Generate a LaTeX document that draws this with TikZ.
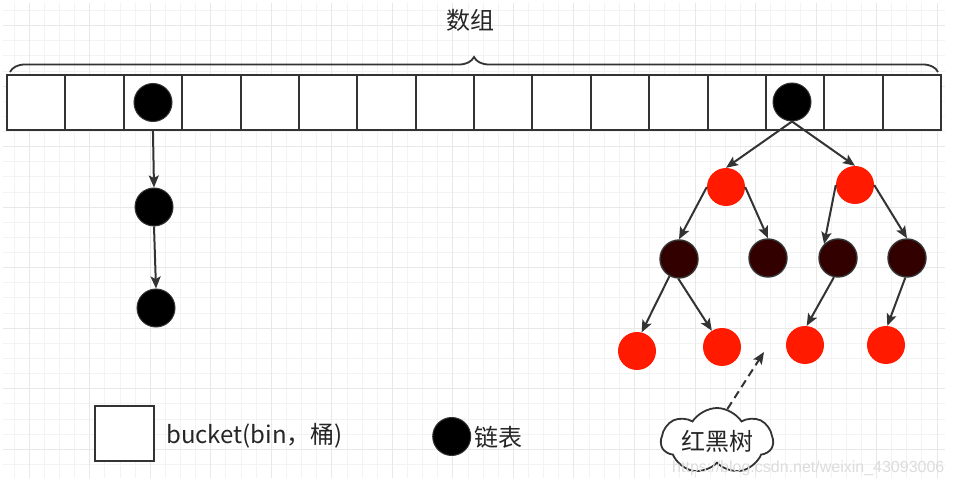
\documentclass[tikz,border=0pt]{standalone}
\usepackage{fontspec}
\newfontfamily\cjk{Noto Sans CJK SC}
\newfontfamily\wm{Liberation Sans}
\usetikzlibrary{arrows.meta,shapes.symbols,decorations.pathreplacing}
\definecolor{rbred}{HTML}{FF1A00}
\definecolor{rbdark}{HTML}{330000}
\definecolor{edgec}{HTML}{333333}
\definecolor{gridminor}{HTML}{F3F3F3}
\definecolor{gridmajor}{HTML}{E8E8E8}
\definecolor{wmc}{HTML}{DCDCDC}
\begin{document}
\begin{tikzpicture}[x=1pt,y=-1pt,
  cell/.style={draw=edgec, line width=2pt, fill=white, minimum width=58.375pt, minimum height=55pt, inner sep=0pt, outer sep=0pt},
  blk/.style={circle, draw=edgec, line width=1pt, fill=black, minimum size=38pt, inner sep=0pt},
  rnode/.style={circle, fill=rbred, minimum size=38pt, inner sep=0pt},
  dnode/.style={circle, draw=edgec, line width=1.4pt, fill=rbdark, minimum size=38pt, inner sep=0pt},
  arr/.style={draw=edgec, line width=2pt, -{Stealth[length=12pt,width=10pt,inset=2.5pt]}},
  cjklabel/.style={font=\cjk\fontsize{24}{26}\selectfont, inner sep=0pt, text=black!85}
]
\useasboundingbox (0,0) rectangle (953,486);
\fill[white] (0,0) rectangle (953,486);
% grid
\foreach \k in {-1,...,60} \draw[gridminor, line width=1pt] ({29.3+15.13*\k},3) -- ({29.3+15.13*\k},478);
\foreach \k in {-1,...,29} \draw[gridminor, line width=1pt] (3,{449.3-15.13*\k}) -- (945,{449.3-15.13*\k});
\foreach \k in {0,...,15} \draw[gridmajor, line width=1pt] ({29.3+60.52*\k},3) -- ({29.3+60.52*\k},478);
\foreach \k in {0,...,7} \draw[gridmajor, line width=1pt] (3,{449.3-60.52*\k}) -- (945,{449.3-60.52*\k});

% title and brace
\node[cjklabel] (title) at (470,20) {数组};
\coordinate (bl) at (10,72);
\coordinate (br) at (938,72);
\draw[edgec, line width=1.8pt, decorate, decoration={brace, amplitude=15pt}] (bl) -- (br);

% array
\foreach \i in {1,...,16} \node[cell] (c\i) at ({7+58.375*(\i-0.5)},102.5) {};

% linked list
\node[blk] (a1) at (153,102.5) {};
\node[blk] (l2) at (154,207) {};
\node[blk] (l3) at (156,308) {};
\draw[arr] (c3.south) -- (l2.north);
\draw[arr] (l2.south) -- (l3.north);

% tree
\node[blk] (root) at (792,102) {};
\node[rnode] (t1a) at (726,187) {};
\node[rnode] (t1b) at (855,185) {};
\node[dnode] (t2a) at (679,259) {};
\node[dnode] (t2b) at (768,258) {};
\node[dnode] (t2c) at (838,258) {};
\node[dnode] (t2d) at (907,258) {};
\node[rnode] (t3a) at (637,351) {};
\node[rnode] (t3b) at (722,347) {};
\node[rnode] (t3c) at (805,345) {};
\node[rnode] (t3d) at (886,345) {};
\draw[arr] (root.south) -- (t1a.north);
\draw[arr] (root.south) -- (t1b.north);
\draw[arr] (t1a.west) -- (t2a.north);
\draw[arr] (t1a.east) -- (t2b.north);
\draw[arr] (t1b.west) -- (t2c.135);
\draw[arr] (t1b.east) -- (t2d.north);
\draw[arr] (t2a.241) -- (t3a.76);
\draw[arr] (t2a.268) -- (t3b.122);
\draw[arr] (t2c.258) -- (t3c.85);
\draw[arr] (t2d.265) -- (t3d.86);

% legend
\node[draw=edgec, line width=2pt, fill=white, minimum width=59pt, minimum height=55pt, inner sep=0pt] (lsq) at (124.7,433.5) {};
\node[font=\cjk\fontsize{24}{26}\selectfont, anchor=west, inner sep=0pt, text=black!85] (lsqt) at (166,436) {bucket(bin，桶)};
\node[blk] (lcir) at (451.7,436.5) {};
\node[cjklabel, anchor=west] (lcirt) at (474,437) {链表};

% cloud
\node[cloud, draw=edgec, line width=1.8pt, fill=white, cloud puffs=7, cloud puff arc=115, aspect=1.7, minimum width=112pt, minimum height=66pt, inner sep=0pt] (cloud) at (717,441) {};
\node[cjklabel] (cloudt) at (717,441) {红黑树};
\coordinate (tip) at (764,352);
\draw[edgec, line width=2pt, dash pattern=on 8pt off 5pt, -{Stealth[length=12pt,width=10pt,inset=2.5pt]}] (cloud.72) -- (tip);

% watermark
\node[font=\wm\fontsize{16}{18}\selectfont, text=wmc, anchor=west, inner sep=0pt] (wmark) at (672,468) {https://blog.csdn.net/weixin\_43093006};
\end{tikzpicture}
\end{document}
